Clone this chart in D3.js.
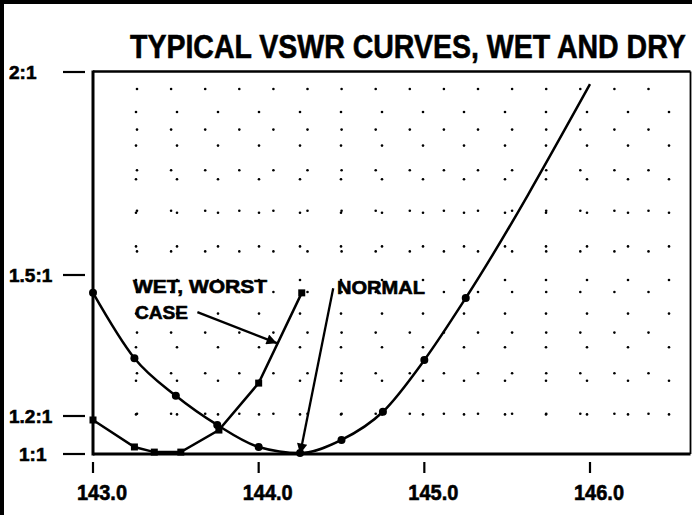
<!DOCTYPE html>
<html>
<head>
<meta charset="utf-8">
<script src="https://cdn.jsdelivr.net/npm/d3@7"></script>
<style>
  html, body { margin: 0; padding: 0; background: #fff; }
  svg { display: block; }
  text { font-family: "Liberation Sans Narrow", "Liberation Sans", Arial, sans-serif; font-weight: bold; fill: #000; stroke: #000; stroke-width: 0.6px; }
</style>
</head>
<body>
<svg id="chart" width="692" height="515"></svg>
<script>
// Frequency axis (MHz)
const freqTicks = [143.0, 144.0, 145.0, 146.0];
const freqTickLabels = ["143.0", "144.0", "145.0", "146.0"];

// VSWR axis
const vswrTicks = [2, 1.5, 1.2, 1];
const vswrTickLabels = ["2:1", "1.5:1", "1.2:1", "1:1"];

// Normal (dry) antenna
const normalFreq = [143.0, 143.25, 143.5, 143.75, 144.0, 144.25, 144.5, 144.75, 145.0, 145.25, 146.0];
const normalVswr = [1.462, 1.323, 1.243, 1.153, 1.037, 1.005, 1.074, 1.209, 1.319, 1.451, 1.970];

// Wet, worst case
const wetFreq = [143.0, 143.25, 143.37, 143.53, 143.76, 144.0, 144.26];
const wetVswr = [1.179, 1.037, 1.010, 1.010, 1.126, 1.270, 1.462];

const titleText = "TYPICAL VSWR CURVES, WET AND DRY";

const svg = d3.select("#chart");
const W = 692, H = 515;
const plotLeft = 93, plotRight = 690.5, plotTop = 71.5, plotBottom = 454;

const x = d3.scaleLinear().domain([143, 146]).range([plotLeft, 590]);
// hand-drawn VSWR scale: uneven spacing between ticks
const y = d3.scaleLinear().domain([1, 1.2, 1.5, 2]).range([plotBottom, 416, 275, 72]);

// page edge bars
svg.append("rect").attr("x", 0).attr("y", 0).attr("width", 4).attr("height", H).attr("fill", "#000");
svg.append("rect").attr("x", 0).attr("y", 0).attr("width", W).attr("height", 4).attr("fill", "#000");

// title, squeezed horizontally into a condensed look
const title = svg.append("text")
  .attr("font-size", 34)
  .text(titleText);
const titleNatural = title.node().getComputedTextLength();
title.attr("transform", `translate(130,58) scale(${556 / titleNatural},1)`);

// dotted background grid: two overlaid dot lattices
const gridG = svg.append("g").attr("fill", "#000");
const latticeA = [];
d3.range(137, 660, 34.1).forEach(px => d3.range(89, 425, 40.6).forEach(py => latticeA.push([px, py])));
const latticeB = [];
d3.range(136, 680, 41).forEach(px => d3.range(112, 425, 33.6).forEach(py => latticeB.push([px, py])));
gridG.selectAll("circle.ga").data(latticeA).join("circle").attr("class", "ga")
  .attr("cx", d => d[0]).attr("cy", d => d[1]).attr("r", 1.3);
gridG.selectAll("circle.gb").data(latticeB).join("circle").attr("class", "gb")
  .attr("cx", d => d[0]).attr("cy", d => d[1]).attr("r", 1.3);

// plot frame
const frame = svg.append("g").attr("stroke", "#000").attr("fill", "none");
frame.append("line").attr("x1", plotLeft).attr("x2", plotRight).attr("y1", plotTop).attr("y2", plotTop).attr("stroke-width", 2.5);
frame.append("line").attr("x1", plotRight).attr("x2", plotRight).attr("y1", plotTop).attr("y2", plotBottom).attr("stroke-width", 1.8);
frame.append("line").attr("x1", plotLeft).attr("x2", plotLeft).attr("y1", plotTop - 1).attr("y2", plotBottom + 1.5).attr("stroke-width", 3);
frame.append("line").attr("x1", plotLeft).attr("x2", plotRight).attr("y1", plotBottom).attr("y2", plotBottom).attr("stroke-width", 3);

// y ticks: short dashes to the left of the frame
const yTickG = svg.append("g");
yTickG.selectAll("line").data(vswrTicks).join("line")
  .attr("x1", 63).attr("x2", 85)
  .attr("y1", d => y(d)).attr("y2", d => y(d))
  .attr("stroke", "#000").attr("stroke-width", 2.2);
yTickG.selectAll("text").data(vswrTicks).join("text")
  .attr("x", (d, i) => i === 3 ? 19 : 9)
  .attr("y", d => y(d) + 6.5)
  .attr("font-size", 19)
  .text((d, i) => vswrTickLabels[i]);

// x ticks below the axis
const xTickG = svg.append("g");
xTickG.selectAll("line").data(freqTicks).join("line")
  .attr("x1", d => x(d)).attr("x2", d => x(d))
  .attr("y1", 462).attr("y2", 473)
  .attr("stroke", "#000").attr("stroke-width", 2.2);
xTickG.selectAll("text").data(freqTicks).join("text")
  .attr("x", d => x(d) + 9)
  .attr("y", 500)
  .attr("font-size", 22)
  .attr("text-anchor", "middle")
  .attr("textLength", 50).attr("lengthAdjust", "spacingAndGlyphs")
  .text((d, i) => freqTickLabels[i]);

// curves
const normal = normalFreq.map((f, i) => ({ f, v: normalVswr[i] }));
const wet = wetFreq.map((f, i) => ({ f, v: wetVswr[i] }));

const normalLine = d3.line().x(d => x(d.f)).y(d => y(d.v)).curve(d3.curveMonotoneX);
const wetLine = d3.line().x(d => x(d.f)).y(d => y(d.v));

svg.append("path").datum(normal).attr("d", normalLine)
  .attr("fill", "none").attr("stroke", "#000").attr("stroke-width", 2.5);
svg.append("path").datum(wet).attr("d", wetLine)
  .attr("fill", "none").attr("stroke", "#000").attr("stroke-width", 2.5);

svg.append("g").selectAll("circle").data(normal.slice(0, -1)).join("circle")
  .attr("cx", d => x(d.f)).attr("cy", d => y(d.v)).attr("r", 4)
  .attr("fill", "#000");
svg.append("g").selectAll("rect").data(wet).join("rect")
  .attr("x", d => x(d.f) - 3.5).attr("y", d => y(d.v) - 3.5)
  .attr("width", 7).attr("height", 7)
  .attr("fill", "#000");

// annotations with arrows
const defs = svg.append("defs");
defs.append("marker").attr("id", "arrow")
  .attr("viewBox", "0 0 10 10").attr("refX", 10).attr("refY", 5)
  .attr("markerWidth", 9).attr("markerHeight", 4.5)
  .attr("markerUnits", "strokeWidth")
  .attr("orient", "auto")
  .append("path").attr("d", "M0,0 L10,5 L0,10 Z").attr("fill", "#000");

function arrow(f1, v1, f2, v2) {
  svg.append("line")
    .attr("x1", x(f1)).attr("y1", y(v1))
    .attr("x2", x(f2)).attr("y2", y(v2))
    .attr("stroke", "#000").attr("stroke-width", 2.3)
    .attr("marker-end", "url(#arrow)");
}

svg.append("text").attr("x", 133).attr("y", 293).attr("font-size", 18)
  .attr("textLength", 134).attr("lengthAdjust", "spacingAndGlyphs").text("WET, WORST");
svg.append("text").attr("x", 135).attr("y", 319).attr("font-size", 18)
  .attr("textLength", 53).attr("lengthAdjust", "spacingAndGlyphs").text("CASE");
arrow(143.63, 1.421, 144.11, 1.355);

svg.append("text").attr("x", 337).attr("y", 294).attr("font-size", 18)
  .attr("textLength", 88).attr("lengthAdjust", "spacingAndGlyphs").text("NORMAL");
arrow(144.45, 1.472, 144.25, 1.0);
</script>
</body>
</html>
